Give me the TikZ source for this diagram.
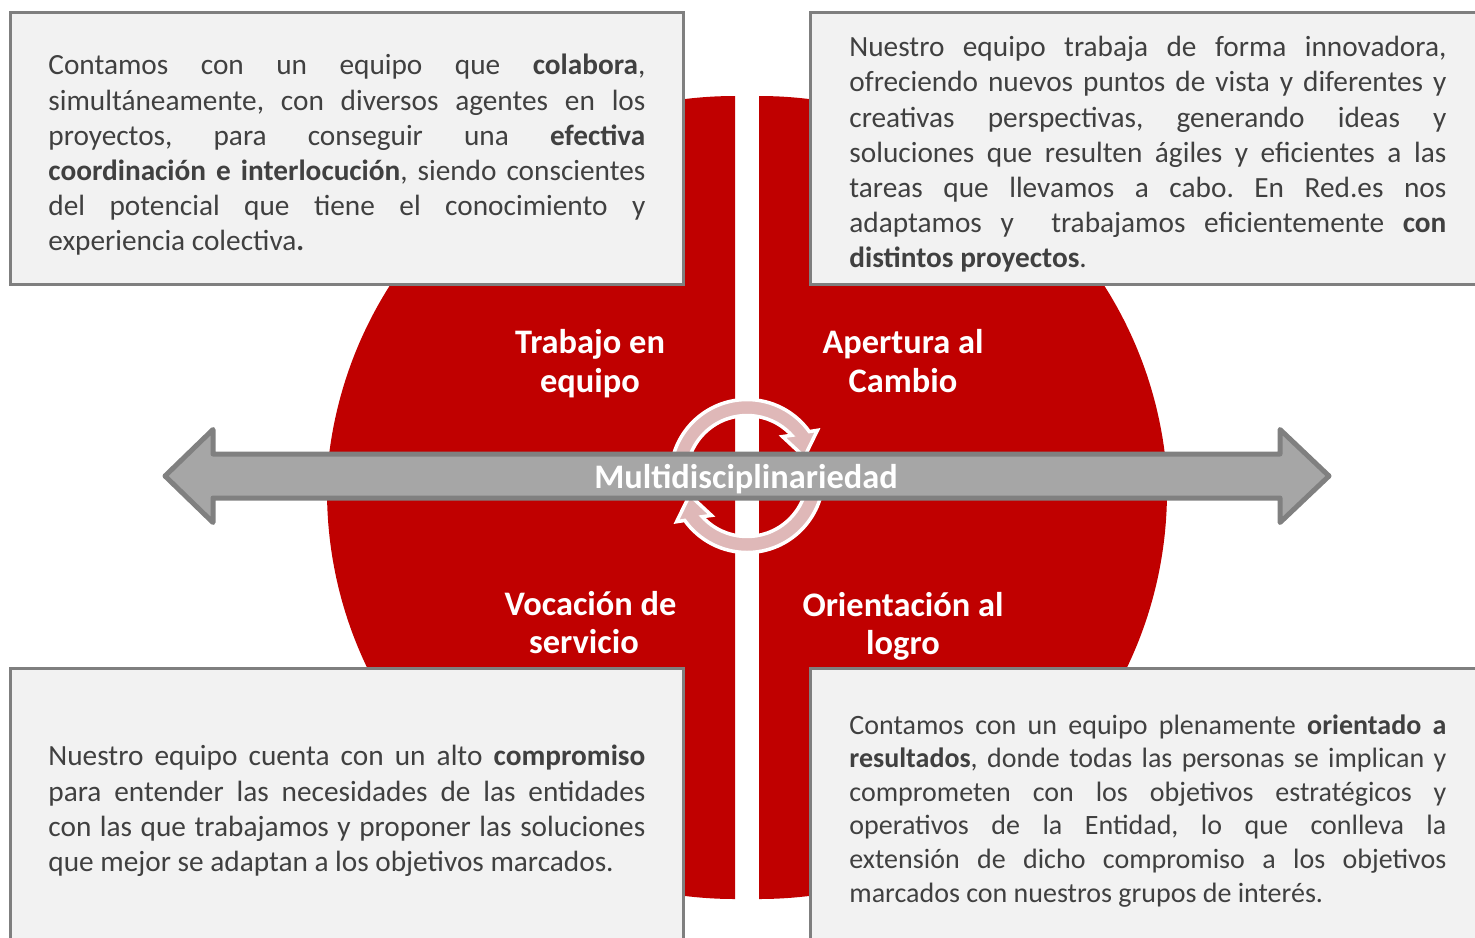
\documentclass[tikz,border=0pt]{standalone}
\usepackage{fontspec}
\setmainfont{Carlito}
\hyphenpenalty=10000
\exhyphenpenalty=10000
\tolerance=9999
\frenchspacing
\definecolor{dred}{RGB}{192,0,0}
\definecolor{boxfill}{RGB}{242,242,242}
\definecolor{boxline}{RGB}{127,127,127}
\definecolor{txt}{RGB}{64,64,64}
\definecolor{ringpink}{RGB}{223,184,184}
\definecolor{arrowfill}{RGB}{166,166,166}
\definecolor{arrowline}{RGB}{128,128,128}
\begin{document}
\begin{tikzpicture}[x=0.5pt,y=-0.5pt,
  infobox/.style={fill=boxfill,draw=boxline,line width=1.5pt},
  bodytext/.style={anchor=north west,inner sep=0pt,text width=298.5pt,align=justify,text=txt,font=\fontsize{14.65}{17.6}\selectfont},
  quadlabel/.style={text=white,align=center,font=\bfseries\fontsize{17.2}{19.25}\selectfont,inner sep=0pt},
  cyc/.style={fill=ringpink,draw=white,line width=1.75pt,line join=miter},
  bigarrow/.style={draw=arrowline,fill=arrowfill,line width=2.5pt,line join=round}
]
\useasboundingbox (0,0) rectangle (1475,937);
\clip (0,0) rectangle (1475,937);
% red quadrants
\begin{scope}\clip (0,0) rectangle (735,476); \fill[dred] (735,505) circle[radius=409]; \end{scope}
\begin{scope}\clip (759,0) rectangle (1475,476); \fill[dred] (759,505) circle[radius=409]; \end{scope}
\begin{scope}\clip (0,476) rectangle (735,937); \fill[dred] (735,491) circle[radius=408]; \end{scope}
\begin{scope}\clip (759,476) rectangle (1475,937); \fill[dred] (759,491) circle[radius=408]; \end{scope}
% boxes
\draw[infobox] (10,12) rectangle (683,284);
\draw[infobox] (810,12) rectangle (1490,284);
\draw[infobox] (10,668) rectangle (683,950);
\draw[infobox] (810,668) rectangle (1490,950);
% texts
\node[bodytext] (txtTL) at (48,54) {Contamos con un equipo que \textbf{colabora},\linebreak simultáneamente, con diversos agentes en los\linebreak proyectos, para conseguir una \textbf{efectiva}\linebreak \textbf{coordinación e interlocución}, siendo conscientes\linebreak del potencial que tiene el conocimiento y\linebreak experiencia colectiva\textbf{.}};
\node[bodytext] (txtTR) at (849,36) {Nuestro equipo trabaja de forma innovadora,\linebreak ofreciendo nuevos puntos de vista y diferentes y\linebreak creativas perspectivas, generando ideas y\linebreak soluciones que resulten ágiles y eficientes a las\linebreak tareas que llevamos a cabo. En Red.es nos\linebreak adaptamos y\ \ trabajamos eficientemente \textbf{con}\linebreak \textbf{distintos proyectos}.};
\node[bodytext] (txtBL) at (48,745) {Nuestro equipo cuenta con un alto \textbf{compromiso}\linebreak para entender las necesidades de las entidades\linebreak con las que trabajamos y proponer las soluciones\linebreak que mejor se adaptan a los objetivos marcados.};
\node[bodytext,font=\fontsize{14}{16.8}\selectfont] (txtBR) at (849,714) {Contamos con un equipo plenamente \textbf{orientado a}\linebreak \textbf{resultados}, donde todas las personas se implican y\linebreak comprometen con los objetivos estratégicos y\linebreak operativos de la Entidad, lo que conlleva la\linebreak extensión de dicho compromiso a los objetivos\linebreak marcados con nuestros grupos de interés.};
% quadrant labels
\node[quadlabel] (lblTL) at (590,363.5) {Trabajo en\\equipo};
\node[quadlabel] (lblTR) at (903,361) {Apertura al\\Cambio};
\node[quadlabel] (lblBL) at (590.5,622.5) {Vocación de\\servicio\kern6.5pt};
\node[quadlabel] (lblBR) at (903,626.5) {Orientación al\\logro};
% cycle arrows
\begin{scope}[shift={(747,476)}]
\draw[cyc] (-180:76.5) arc[start angle=-180,end angle=-35.5,radius=76.5] -- (70.4,-45.7) -- (57.4,-19) -- (35.5,-39.4) -- (-42.3:60.5) arc[start angle=-42.3,end angle=-180,radius=60.5] -- cycle;
\draw[cyc] (0:76.5) arc[start angle=0,end angle=144.5,radius=76.5] -- (-70.4,45.7) -- (-57.4,19) -- (-35.5,39.4) -- (137.7:60.5) arc[start angle=137.7,end angle=0,radius=60.5] -- cycle;
\end{scope}
% double arrow
\draw[bigarrow] (165,476) -- (213,429.5) -- (213,454) -- (1280,454) -- (1280,429.5) -- (1329,476) -- (1280,522.5) -- (1280,498) -- (213,498) -- (213,522.5) -- cycle;
\node[anchor=base,text=white,font=\bfseries\fontsize{17.2}{19.25}\selectfont,inner sep=0pt] (multi) at (746,488) {Multidisciplinariedad};
\end{tikzpicture}
\end{document}
